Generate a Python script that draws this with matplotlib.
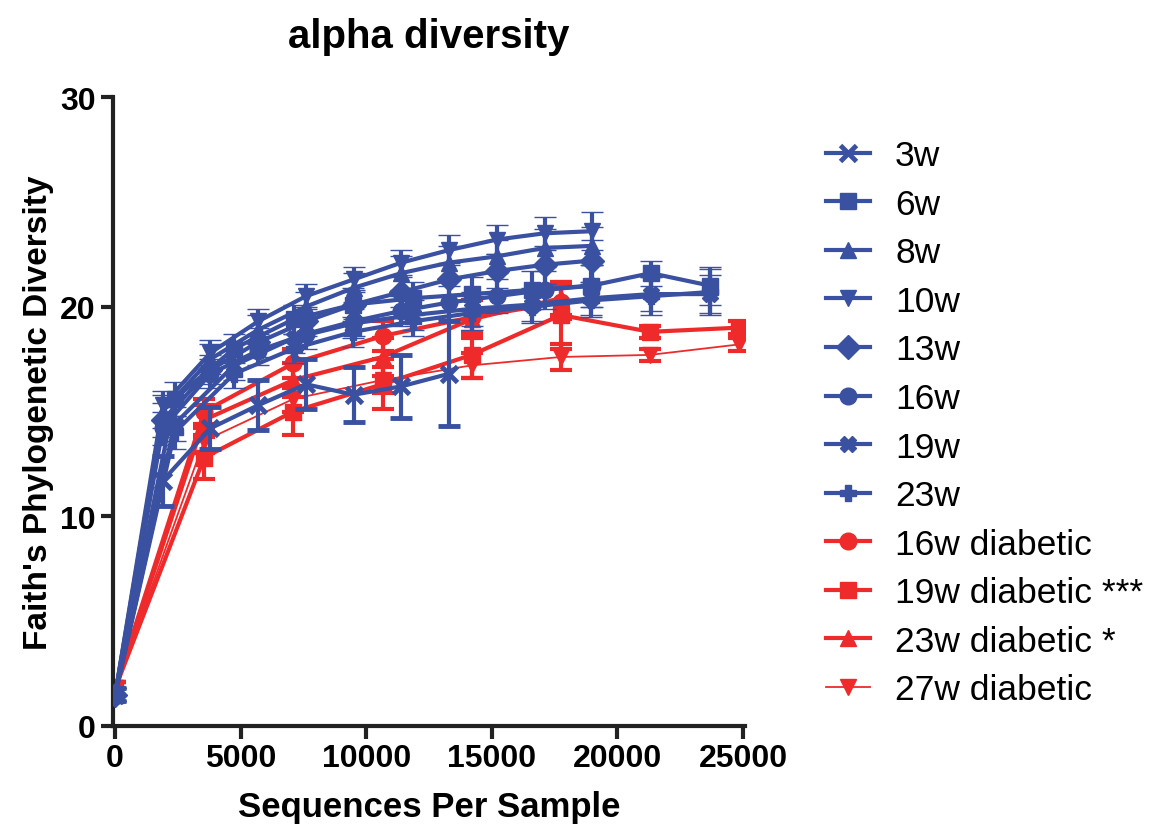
import matplotlib
matplotlib.use("Agg")
import matplotlib.pyplot as plt

plt.rcParams["font.family"] = ["Liberation Sans", "DejaVu Sans"]

BLUE = "#3a50a0"
RED = "#ee2a2a"

# rarefaction depths (three batches with different step sizes)
depth_a = [10, 1900, 3800, 5700, 7600, 9500, 11400, 13300, 15200, 17100, 19000]
depth_b = [10, 2370, 4740, 7110, 9480, 11850, 14220, 16590, 18960, 21330, 23700]
depth_c = [10, 3550, 7100, 10650, 14200, 17750, 21300, 24850]

# mean Faith PD per group, and SD
pd_3w = [1.5, 11.7, 14.2, 15.3, 16.3, 15.8, 16.2, 16.8]
sd_3w = [0.3, 1.2, 1.0, 1.2, 1.2, 1.3, 1.5, 2.5]
pd_6w = [1.5, 15.6, 18.0, 19.4, 20.1, 20.4, 20.6, 20.8, 21.0, 21.6, 21.0]
sd_6w = [0.3, 0.8, 0.7, 0.7, 0.8, 0.8, 0.8, 0.9, 1.0, 0.6, 0.9]
pd_8w = [1.5, 15.0, 17.5, 18.9, 20.0, 20.9, 21.6, 22.1, 22.4, 22.8, 22.9]
sd_8w = [0.3, 0.8, 0.7, 0.7, 0.7, 0.7, 0.8, 0.8, 0.8, 0.9, 0.9]
pd_10w = [1.5, 15.3, 17.8, 19.3, 20.5, 21.3, 22.1, 22.7, 23.2, 23.5, 23.6]
sd_10w = [0.3, 0.7, 0.6, 0.6, 0.6, 0.6, 0.6, 0.7, 0.7, 0.8, 0.9]
pd_13w = [1.5, 14.6, 17.0, 18.3, 19.3, 20.1, 20.7, 21.3, 21.7, 22.0, 22.2]
sd_13w = [0.3, 0.8, 0.7, 0.7, 0.7, 0.7, 0.7, 0.8, 0.8, 0.9, 1.0]
pd_16w = [1.5, 14.2, 16.8, 17.9, 18.7, 19.3, 19.8, 20.2, 20.5, 20.8, 21.0]
sd_16w = [0.3, 0.8, 0.7, 0.7, 0.7, 0.7, 0.7, 0.8, 0.8, 0.9, 1.0]
pd_19w = [1.5, 14.4, 17.2, 18.5, 19.2, 19.6, 19.9, 20.1, 20.4, 20.6, 20.6]
sd_19w = [0.3, 0.8, 0.7, 0.7, 0.7, 0.7, 0.8, 0.8, 0.8, 0.8, 0.9]
pd_23w = [1.5, 14.0, 16.8, 18.0, 18.8, 19.3, 19.7, 20.0, 20.3, 20.5, 20.7]
sd_23w = [0.3, 0.8, 0.7, 0.7, 0.7, 0.7, 0.8, 0.8, 0.8, 0.9, 1.1]

pd_16wd = [1.8, 15.0, 17.3, 18.6, 19.5, 20.2]
sd_16wd = [0.3, 0.6, 0.7, 0.7, 0.8, 0.8]
pd_19wd = [1.8, 12.8, 15.0, 16.3, 17.7, 19.6, 18.8, 19.0]
sd_19wd = [0.3, 1.0, 1.1, 1.2, 1.1, 1.6, 0.3, 0.3]
pd_23wd = [1.8, 14.6, 16.5, 17.6, 19.4, 20.4]
sd_23wd = [0.3, 0.7, 0.8, 0.9, 0.9, 0.8]
pd_27wd = [1.8, 13.6, 15.6, 16.5, 17.2, 17.6, 17.7, 18.2]
sd_27wd = [0.3, 0.6, 0.6, 0.6, 0.6, 0.6, 0.3, 0.3]

blue_series = [
    ("3w", depth_a, pd_3w, sd_3w, "x"),
    ("6w", depth_b, pd_6w, sd_6w, "s"),
    ("8w", depth_a, pd_8w, sd_8w, "^"),
    ("10w", depth_a, pd_10w, sd_10w, "v"),
    ("13w", depth_a, pd_13w, sd_13w, "D"),
    ("16w", depth_a, pd_16w, sd_16w, "o"),
    ("19w", depth_b, pd_19w, sd_19w, "X"),
    ("23w", depth_b, pd_23w, sd_23w, "P"),
]
red_series = [
    ("16w diabetic", depth_c, pd_16wd, sd_16wd, "o", 3.0),
    ("19w diabetic ***", depth_c, pd_19wd, sd_19wd, "s", 3.0),
    ("23w diabetic *", depth_c, pd_23wd, sd_23wd, "^", 3.0),
    ("27w diabetic", depth_c, pd_27wd, sd_27wd, "v", 1.3),
]

fig = plt.figure(figsize=(11.51, 8.28), dpi=100)
ax = fig.add_axes([113 / 1151, 1 - 727 / 828, (745 - 113) / 1151, (727 - 98) / 828])

handles = {}
for label, xs, ys, sd, mk, lw in red_series:
    n = len(ys)
    h = ax.errorbar(xs[:n], ys, yerr=sd, color=RED, marker=mk, markersize=12,
                    lw=lw, elinewidth=3, capsize=8, capthick=3, zorder=2)
    handles[label] = h.lines[0]

for label, xs, ys, sd, mk in blue_series:
    n = len(ys)
    mew = 3.5 if mk == "x" else 1
    h = ax.errorbar(xs[:n], ys, yerr=sd, color=BLUE, marker=mk, markersize=12,
                    mew=mew, lw=3, elinewidth=3, capsize=8, capthick=3,
                    zorder=3)
    handles[label] = h.lines[0]

order = [s[0] for s in blue_series] + [s[0] for s in red_series]
leg = ax.legend([handles[k] for k in order], order, loc="upper left",
                bbox_to_anchor=(826 / 1151, 1 - 140 / 828),
                bbox_transform=fig.transFigure, frameon=False, fontsize=25.5,
                handlelength=1.25, handletextpad=0.7, labelspacing=0.44,
                borderpad=0, borderaxespad=0)

ax.set_xlim(-80, 25080)
ax.set_ylim(0, 30)
ax.set_xticks([0, 5000, 10000, 15000, 20000, 25000])
ax.set_yticks([0, 10, 20, 30])
for s in ["top", "right"]:
    ax.spines[s].set_visible(False)
for s in ["left", "bottom"]:
    ax.spines[s].set_linewidth(3)
    ax.spines[s].set_color("#222222")
ax.tick_params(width=3, length=9, color="#222222", labelsize=23)
for t in ax.get_xticklabels() + ax.get_yticklabels():
    t.set_fontweight("bold")

ax.set_xlabel("Sequences Per Sample", fontsize=25, fontweight="bold", labelpad=12)
ax.set_ylabel("Faith's Phylogenetic Diversity", fontsize=24, fontweight="bold", labelpad=4)
ax.set_title("alpha diversity", fontsize=29, fontweight="bold", pad=36)

fig.savefig("out.png", dpi=100)
